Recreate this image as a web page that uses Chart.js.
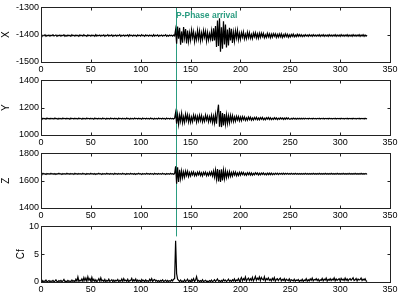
<!DOCTYPE html>
<html>
<head>
<meta charset="utf-8">
<script src="https://cdn.jsdelivr.net/npm/chart.js@4"></script>
<style>
  body { margin: 0; background: #fff; }
  #wrap { position: relative; width: 400px; height: 293px; }
  #wrap canvas { position: absolute; left: 0; }
</style>
</head>
<body>
<div id="wrap">
  <canvas id="panelX" width="400" height="73" style="top:0"></canvas>
  <canvas id="panelY" width="400" height="73" style="top:73px"></canvas>
  <canvas id="panelZ" width="400" height="73" style="top:146px"></canvas>
  <canvas id="panelCf" width="400" height="74" style="top:219px"></canvas>
</div>
<script>
// one sample per second
const SAMPLE_STEP = 1;

const xTrace = [
  -1401,-1405,-1402,-1404,-1400,-1406,-1402,-1404,-1401,-1405,
  -1402,-1404,-1400,-1405,-1403,-1401,-1406,-1402,-1404,-1401,
  -1405,-1402,-1404,-1400,-1406,-1402,-1405,-1401,-1404,-1402,
  -1406,-1400,-1404,-1402,-1405,-1401,-1404,-1402,-1406,-1401,
  -1404,-1402,-1405,-1400,-1404,-1403,-1406,-1401,-1404,-1402,
  -1405,-1401,-1404,-1402,-1406,-1400,-1405,-1402,-1404,-1401,
  -1405,-1402,-1404,-1401,-1406,-1402,-1404,-1400,-1405,-1402,
  -1404,-1401,-1406,-1402,-1404,-1401,-1405,-1402,-1404,-1400,
  -1406,-1402,-1404,-1401,-1405,-1402,-1404,-1401,-1406,-1400,
  -1404,-1402,-1405,-1401,-1404,-1402,-1406,-1401,-1404,-1402,
  -1405,-1400,-1404,-1402,-1406,-1401,-1404,-1402,-1405,-1401,
  -1404,-1402,-1406,-1400,-1405,-1402,-1404,-1401,-1406,-1402,
  -1404,-1401,-1405,-1402,-1404,-1400,-1406,-1402,-1405,-1401,
  -1404,-1402,-1405,-1401,-1404,
  -1381,-1433,-1370,-1415,-1375,
  -1437,-1388,-1429,-1372,-1412,-1379,-1432,-1385,-1424,-1393,
  -1420,-1383,-1411,-1389,-1425,-1397,-1418,-1384,-1415,-1387,
  -1422,-1394,-1417,-1385,-1409,-1388,-1423,-1392,-1419,-1396,
  -1416,-1386,-1424,-1377,-1421,-1368,-1445,-1348,-1441,-1340,
  -1462,-1373,-1451,-1351,-1436,-1363,-1447,-1381,-1439,-1375,
  -1421,-1378,-1430,-1391,-1423,-1386,-1412,-1384,-1418,-1395,
  -1417,-1392,-1409,-1390,-1415,-1398,-1414,-1391,-1411,-1393,
  -1413,-1399,-1414,-1394,-1408,-1393,-1412,-1397,-1413,-1395,
  -1410,-1394,-1407,-1395,-1411,-1400,-1410,-1395,-1408,-1397,
  -1411,-1398,-1409,-1396,-1406,-1397,-1410,-1399,-1409,-1397,
  -1408,-1397,-1410,-1400,-1408,-1397,-1407,-1398,-1409,-1400,
  -1408,-1399,-1406,-1398,-1408,-1401,-1407,-1398,-1406,-1399,
  -1406,-1400,-1407,-1401,-1406,-1400,-1405,-1401,-1406,-1400,
  -1405,-1401,-1406,-1400,-1405,-1401,-1406,-1401,-1405,-1400,
  -1406,-1401,-1405,-1400,-1406,-1401,-1405,-1401,-1406,-1400,
  -1405,-1401,-1406,-1401,-1405,-1400,-1406,-1401,-1405,-1401,
  -1406,-1400,-1405,-1401,-1406,-1401,-1405,-1400,-1406,-1401,
  -1405,-1401,-1406,-1400,-1405,-1401,-1406,-1401,-1405,-1400,
  -1406,-1401,-1405,-1400,-1406,-1401,-1405,-1402
];

const yTrace = [
  1122,1117,1123,1118,1121,1116,1124,1119,1122,1117,
  1123,1118,1121,1117,1124,1119,1122,1116,1123,1118,
  1121,1117,1124,1118,1122,1117,1123,1119,1121,1116,
  1124,1118,1122,1117,1123,1119,1121,1117,1124,1118,
  1122,1116,1123,1119,1121,1117,1124,1118,1122,1117,
  1123,1118,1121,1116,1124,1119,1122,1117,1123,1118,
  1121,1117,1124,1118,1122,1116,1123,1119,1121,1117,
  1124,1118,1122,1117,1123,1119,1121,1116,1124,1118,
  1122,1117,1123,1118,1121,1117,1124,1119,1122,1116,
  1123,1118,1121,1117,1124,1118,1122,1117,1123,1119,
  1121,1116,1124,1118,1122,1117,1123,1118,1121,1117,
  1124,1119,1122,1116,1123,1118,1121,1117,1124,1118,
  1122,1117,1123,1119,1121,1116,1124,1118,1122,1117,
  1123,1118,1121,1117,1123,
  1164,1082,1150,1078,1145,
  1100,1158,1089,1134,1094,1153,1108,1148,1096,1139,
  1093,1132,1098,1146,1111,1141,1095,1136,1102,1144,
  1106,1142,1096,1129,1100,1145,1109,1138,1097,1134,
  1101,1144,1092,1138,1087,1150,1082,1168,1222,1060,
  1175,1058,1160,1070,1153,1079,1148,1085,1140,1090,
  1144,1102,1141,1098,1132,1101,1137,1110,1135,1104,
  1131,1105,1134,1112,1132,1107,1126,1108,1131,1113,
  1130,1109,1125,1110,1129,1114,1130,1111,1124,1111,
  1128,1115,1129,1112,1124,1112,1127,1116,1128,1113,
  1126,1113,1123,1114,1127,1116,1126,1113,1123,1115,
  1126,1117,1125,1114,1124,1115,1126,1117,1125,1116,
  1116,1123,1116,1124,1117,1123,1116,1123,1117,1123,
  1117,1123,1117,1122,1117,1123,1118,1122,1117,1123,
  1118,1122,1117,1123,1118,1122,1117,1122,1118,1123,
  1117,1122,1118,1123,1117,1122,1118,1122,1117,1123,
  1118,1122,1117,1122,1118,1123,1117,1122,1118,1122,
  1117,1123,1118,1122,1117,1122,1118,1123,1117,1122,
  1118,1122,1117,1123,1118,1122,1117,1122,1118,1123,
  1117,1122,1118,1122,1117,1123,1118,1121
];

const zTrace = [
  1652,1647,1654,1648,1651,1646,1653,1649,1652,1647,
  1654,1648,1651,1647,1653,1646,1652,1649,1654,1648,
  1651,1646,1653,1648,1652,1647,1654,1649,1651,1647,
  1653,1648,1652,1646,1654,1649,1651,1647,1653,1648,
  1652,1647,1654,1648,1651,1646,1653,1649,1652,1647,
  1654,1648,1651,1647,1653,1646,1652,1649,1654,1648,
  1651,1646,1653,1648,1652,1647,1654,1649,1651,1647,
  1653,1648,1652,1646,1654,1649,1651,1647,1653,1648,
  1652,1647,1654,1648,1651,1646,1653,1649,1652,1647,
  1654,1648,1651,1647,1653,1646,1652,1649,1654,1648,
  1651,1646,1653,1648,1652,1647,1654,1649,1651,1647,
  1653,1648,1652,1646,1654,1649,1651,1647,1653,1648,
  1652,1647,1654,1648,1651,1646,1653,1649,1652,1647,
  1654,1648,1651,1647,1652,
  1705,1578,1698,1590,1680,
  1615,1672,1622,1665,1626,1670,1638,1668,1630,1659,
  1634,1663,1642,1665,1636,1656,1637,1662,1643,1664,
  1638,1658,1635,1661,1644,1663,1636,1657,1639,1662,
  1641,1664,1634,1670,1626,1678,1612,1685,1595,1680,
  1590,1683,1602,1676,1615,1672,1623,1664,1628,1667,
  1632,1660,1634,1664,1641,1663,1636,1657,1638,1661,
  1640,1661,1645,1660,1641,1654,1640,1658,1644,1659,
  1642,1657,1641,1654,1643,1658,1646,1657,1642,1655,
  1643,1656,1646,1657,1644,1653,1643,1656,1645,1656,
  1645,1656,1644,1653,1645,1655,1647,1655,1645,1654,
  1647,1654,1646,1655,1647,1654,1647,1654,1647,1653,
  1647,1654,1648,1653,1647,1654,1648,1653,1647,1653,
  1648,1653,1647,1653,1648,1654,1648,1653,1647,1653,
  1648,1653,1648,1654,1647,1653,1648,1653,1648,1654,
  1647,1653,1648,1653,1648,1654,1647,1653,1648,1653,
  1648,1654,1647,1653,1648,1653,1648,1654,1647,1653,
  1648,1653,1648,1654,1647,1653,1648,1653,1648,1654,
  1647,1653,1648,1653,1648,1654,1647,1653,1648,1653,
  1648,1654,1647,1653,1648,1653,1648,1652
];

const cfTrace = [
  0.1,0.3,0.05,0.2,0.1,0.35,0.05,0.15,0.25,0.05,
  0.2,0.1,0.3,0.05,0.15,0.4,0.1,0.05,0.25,0.1,
  0.3,0.05,0.2,0.45,0.1,0.15,0.05,0.3,0.1,0.2,
  0.05,0.35,0.1,0.25,0.05,0.5,0.15,0.9,0.1,0.3,
  0.2,0.55,0.1,0.8,0.25,0.7,0.1,0.95,0.3,0.6,
  0.15,0.85,0.2,0.5,0.1,0.4,0.05,0.3,0.6,0.1,
  0.75,0.2,0.35,0.1,0.45,0.05,0.3,0.15,0.5,0.1,
  0.25,0.4,0.05,0.35,0.1,0.3,0.2,0.45,0.05,0.3,
  0.15,0.55,0.1,0.6,0.2,0.35,0.1,0.5,0.05,0.3,
  0.25,0.65,0.1,0.4,0.2,0.55,0.05,0.35,0.15,0.3,
  0.1,0.45,0.2,0.3,0.05,0.4,0.15,0.25,0.1,0.5,
  0.2,0.6,0.1,0.35,0.45,0.15,0.3,0.1,0.25,0.05,
  0.3,0.15,0.4,0.1,0.2,0.35,0.05,0.3,0.1,0.25,
  0.15,0.4,0.2,0.5,0.6,7.4,1.5,0.5,0.3,0.1,
  0.35,0.1,0.2,0.05,0.4,0.1,0.25,0.5,0.05,0.3,
  0.1,0.45,0.2,0.6,0.1,0.35,0.95,0.15,0.3,0.05,
  0.25,0.1,0.4,0.05,0.2,0.3,0.1,0.15,0.05,0.25,
  0.1,0.35,0.05,0.2,0.4,0.1,0.3,0.55,0.15,0.25,
  0.05,0.3,0.1,0.45,0.2,0.35,0.1,0.25,0.5,0.15,
  0.3,0.1,0.4,0.2,0.55,0.1,0.35,0.25,0.6,0.15,
  0.45,0.8,0.2,0.6,0.35,0.9,0.15,0.5,0.7,0.25,
  0.6,0.3,0.85,0.2,0.55,1.0,0.3,0.7,0.45,0.9,
  0.25,0.8,0.5,0.35,0.95,0.2,0.6,0.4,0.75,0.3,
  0.5,0.2,0.65,0.35,0.8,0.15,0.45,0.6,0.25,0.5,
  0.7,0.2,0.45,0.3,0.6,0.15,0.5,0.35,0.25,0.55,
  0.1,0.4,0.3,0.2,0.5,0.15,0.35,0.25,0.45,0.1,
  0.3,0.2,0.5,0.1,0.35,0.25,0.6,0.15,0.4,0.2,
  0.55,0.3,0.7,0.2,0.45,0.35,0.6,0.25,0.5,0.15,
  0.4,0.3,0.65,0.2,0.5,0.35,0.7,0.15,0.45,0.3,
  0.6,0.25,0.5,0.35,0.75,0.2,0.55,0.3,0.45,0.6,
  0.2,0.65,0.35,0.5,0.25,0.7,0.3,0.55,0.2,0.45,
  0.6,0.3,0.5,0.75,0.25,0.4,0.65,0.2,0.55,0.35,
  0.45,0.7,0.25,0.5,0.35,0.6,0.2,0.1
];

const panelNames = ['X', 'Y', 'Z', 'Cf'];
const panelIds = ['panelX', 'panelY', 'panelZ', 'panelCf'];
const yRanges = [[-1500, -1300], [1000, 1400], [1400, 1800], [0, 10]];
const yTickSteps = [100, 200, 200, 5];
const xRange = [0, 350];
const xTickStep = 50;
const arrivalTime = 135.5;
const arrivalLabel = 'P-Phase arrival';

const traces = [xTrace, yTrace, zTrace, cfTrace];
const GREEN = '#2a9c80';
const FONT = "'Liberation Sans', Arial, sans-serif";

// frame, inward tick marks (matlab style) and the arrival marker
const framePlugin = {
  id: 'frame',
  beforeDatasetsDraw(chart, args, opts) {
    const { ctx, chartArea: a, scales: { x } } = chart;
    const ax = Math.round(x.getPixelForValue(arrivalTime)) + 0.5;
    ctx.save();
    ctx.strokeStyle = GREEN;
    ctx.lineWidth = 1;
    ctx.beginPath();
    ctx.moveTo(ax, opts.first ? a.top : 0);
    ctx.lineTo(ax, opts.last ? a.top + 10 : chart.height);
    ctx.stroke();
    ctx.restore();
  },
  afterDatasetsDraw(chart, args, opts) {
    const { ctx, chartArea: a, scales: { x, y } } = chart;
    const l = Math.round(a.left) + 0.5, r = Math.round(a.right) + 0.5;
    const t = Math.round(a.top) + 0.5, b = Math.round(a.bottom) + 0.5;
    ctx.save();
    ctx.strokeStyle = '#222';
    ctx.lineWidth = 1;
    ctx.strokeRect(l, t, r - l, b - t);
    ctx.beginPath();
    x.ticks.forEach(tk => {
      const px = Math.round(x.getPixelForValue(tk.value)) + 0.5;
      ctx.moveTo(px, b); ctx.lineTo(px, b - 3);
      ctx.moveTo(px, t); ctx.lineTo(px, t + 3);
    });
    y.ticks.forEach(tk => {
      const py = Math.round(y.getPixelForValue(tk.value)) + 0.5;
      ctx.moveTo(l, py); ctx.lineTo(l + 3, py);
      ctx.moveTo(r, py); ctx.lineTo(r - 3, py);
    });
    ctx.stroke();
    if (opts.first) {
      ctx.fillStyle = GREEN;
      ctx.font = 'bold 8.5px ' + FONT;
      ctx.textBaseline = 'alphabetic';
      ctx.fillText(arrivalLabel, Math.round(x.getPixelForValue(arrivalTime)), t + 10);
    }
    ctx.restore();
  }
};

function makePanel(i) {
  const padLeft = panelNames[i] === 'Cf' ? 15 : 0;
  const points = traces[i].map((v, k) => ({ x: k * SAMPLE_STEP, y: v }));
  const ctx = document.getElementById(panelIds[i]).getContext('2d');
  return new Chart(ctx, {
    type: 'line',
    data: {
      datasets: [{
        data: points,
        borderColor: '#000',
        borderWidth: 1.2,
        pointRadius: 0,
        tension: 0
      }]
    },
    options: {
      responsive: false,
      animation: false,
      layout: { padding: { left: padLeft, right: 10, top: 7, bottom: 0 } },
      plugins: {
        legend: { display: false },
        tooltip: { enabled: false },
        frame: { first: i === 0, last: i === traces.length - 1 }
      },
      scales: {
        x: {
          type: 'linear',
          min: xRange[0],
          max: xRange[1],
          grid: { display: false, drawTicks: false },
          border: { display: false },
          ticks: {
            stepSize: xTickStep,
            maxRotation: 0,
            padding: 2,
            color: '#000',
            font: { family: FONT, size: 9 },
            callback: v => String(v)
          },
          afterFit: s => { s.height = 11; }
        },
        y: {
          min: yRanges[i][0],
          max: yRanges[i][1],
          grid: { display: false, drawTicks: false },
          border: { display: false },
          title: {
            display: true,
            text: panelNames[i],
            color: '#000',
            padding: 0,
            font: { family: FONT, size: 10 }
          },
          ticks: {
            stepSize: yTickSteps[i],
            padding: 2,
            color: '#000',
            font: { family: FONT, size: 9 },
            callback: v => String(v)
          },
          afterFit: s => { s.width = 41 - padLeft; }
        }
      }
    },
    plugins: [framePlugin]
  });
}

panelIds.forEach((id, i) => makePanel(i));
</script>
</body>
</html>
